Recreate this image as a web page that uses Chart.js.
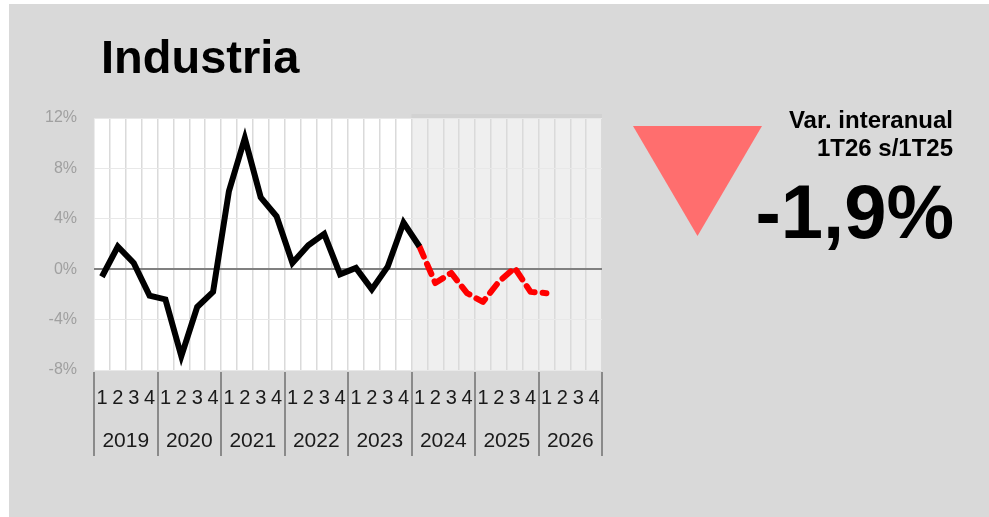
<!DOCTYPE html>
<html>
<head>
<meta charset="utf-8">
<script src="https://cdn.jsdelivr.net/npm/chart.js@4.4.1/dist/chart.umd.min.js"></script>
<style>
  html, body { margin: 0; padding: 0; background: #fff; }
  body { width: 989px; height: 517px; position: relative; overflow: hidden; font-family: 'Liberation Sans', Arial, sans-serif; }
  .panel { position: absolute; left: 9px; top: 4px; right: 0; bottom: 0; background: #d9d9d9; }
  #chart { position: absolute; left: 0; top: 0; }
  .txt { position: absolute; line-height: 1; font-weight: bold; color: #000; white-space: nowrap; }
  #title { left: 101px; top: 33px; font-size: 47px; }
  .var { right: 36px; font-size: 24px; text-align: right; }
  #big { right: 35px; top: 174px; font-size: 76px; text-align: right; }
  #arrow { position: absolute; left: 633px; top: 126px; }
</style>
</head>
<body>
<div class="panel"></div>
<canvas id="chart" width="989" height="517"></canvas>
<div id="title" class="txt">Industria</div>
<svg id="arrow" width="130" height="112"><polygon points="0,0 129,0 64.5,110" fill="#ff6e6e"/></svg>
<div class="txt var" style="top:108px">Var. interanual</div>
<div class="txt var" style="top:136px">1T26 s/1T25</div>
<div id="big" class="txt">-1,9%</div>
<script>
// quarters 2019T1 .. 2026T4
const years = ['2019', '2020', '2021', '2022', '2023', '2024', '2025', '2026'];
const quarters = ['1', '2', '3', '4'];
const labels = years.flatMap(y => quarters.map(q => q));

// var. interanual (%), observed
const actual = [-0.6, 1.8, 0.5, -2.1, -2.4, -6.9, -3.0, -1.8,
  6.2, 10.4, 5.7, 4.2, 0.5, 1.9, 2.8, -0.4,
  0.1, -1.6, 0.2, 3.7, 1.8, null, null, null,
  null, null, null, null, null, null, null, null];
// forecast, starts at 2024T1
const forecast = [null, null, null, null, null, null, null, null,
  null, null, null, null, null, null, null, null,
  null, null, null, null, 1.8, -1.1, -0.3, -1.9,
  -2.6, -1.0, 0.1, -1.8, -1.9, null, null, null];
const yTicks = [-8, -4, 0, 4, 8, 12];
const forecastStart = 20;

const FONT = "'Liberation Sans', Arial, sans-serif";

const backdrop = {
  id: 'backdrop',
  beforeDraw(chart) {
    const { ctx, chartArea: a } = chart;
    const x = chart.scales.x;
    const fx = x.getPixelForValue(forecastStart - 0.5);
    ctx.save();
    ctx.fillStyle = '#fff';
    ctx.fillRect(a.left, a.top, a.right - a.left, a.bottom - a.top);
    ctx.fillStyle = '#efefef';
    ctx.fillRect(fx, a.top, a.right - fx, a.bottom - a.top);
    ctx.fillStyle = '#d2d2d2';
    ctx.fillRect(fx, a.top - 4, a.right - fx, 4);
    ctx.restore();
  },
  afterDraw(chart) {
    // year separators under the axis
    const { ctx, chartArea: a } = chart;
    const x = chart.scales.x;
    ctx.save();
    ctx.strokeStyle = '#8a8a8a';
    ctx.lineWidth = 2;
    for (let k = 0; k <= years.length; k++) {
      const px = Math.round(x.getPixelForValue(k * 4 - 0.5));
      ctx.beginPath();
      ctx.moveTo(px, a.bottom + 2);
      ctx.lineTo(px, a.bottom + 86);
      ctx.stroke();
    }
    ctx.restore();
  },
};

new Chart(document.getElementById('chart'), {
  type: 'line',
  data: {
    labels,
    datasets: [{
      data: actual,
      borderColor: '#000',
      borderWidth: 6,
      pointRadius: 0,
      tension: 0,
    }, {
      data: forecast,
      borderColor: '#ff0000',
      borderWidth: 6,
      borderDash: [11, 8],
      borderCapStyle: 'round',
      borderJoinStyle: 'round',
      pointRadius: 0,
      tension: 0,
    }],
  },
  options: {
    responsive: false,
    animation: false,
    devicePixelRatio: 1,
    layout: { padding: { left: 0, top: 118, right: 387, bottom: 57 } },
    plugins: { legend: { display: false }, tooltip: { enabled: false } },
    scales: {
      x: {
        type: 'category',
        offset: true,
        weight: 0,
        grid: { offset: true, color: '#dadada', lineWidth: 1.5, drawTicks: false },
        border: { display: false },
        ticks: { autoSkip: false, maxRotation: 0, padding: 16, color: '#1a1a1a', font: { family: FONT, size: 20 } },
        afterFit(axis) { axis.height = 50; },
      },
      years: {
        type: 'linear',
        position: 'bottom',
        weight: 1,
        min: -0.5,
        max: 31.5,
        grid: { display: false, drawTicks: false },
        border: { display: false },
        afterBuildTicks(axis) { axis.ticks = years.map((y, i) => ({ value: i * 4 + 1.5 })); },
        ticks: {
          autoSkip: false, maxRotation: 0, padding: 9, color: '#1a1a1a',
          font: { family: FONT, size: 21 },
          callback: v => years[Math.round((v - 1.5) / 4)],
        },
        afterFit(axis) { axis.height = 40; },
      },
      y: {
        min: -8,
        max: 12,
        afterBuildTicks(axis) { axis.ticks = yTicks.map(v => ({ value: v })); },
        grid: {
          drawTicks: false,
          color: c => (c.tick && c.tick.value === 0 ? '#808080' : '#e8e8e8'),
          lineWidth: c => (c.tick && c.tick.value === 0 ? 2 : 1),
        },
        border: { display: false },
        ticks: { padding: 17, color: '#a0a0a0', font: { family: FONT, size: 16 }, callback: v => v + '%' },
        afterFit(axis) { axis.width = 94; },
      },
    },
  },
  plugins: [backdrop],
});
</script>
</body>
</html>
